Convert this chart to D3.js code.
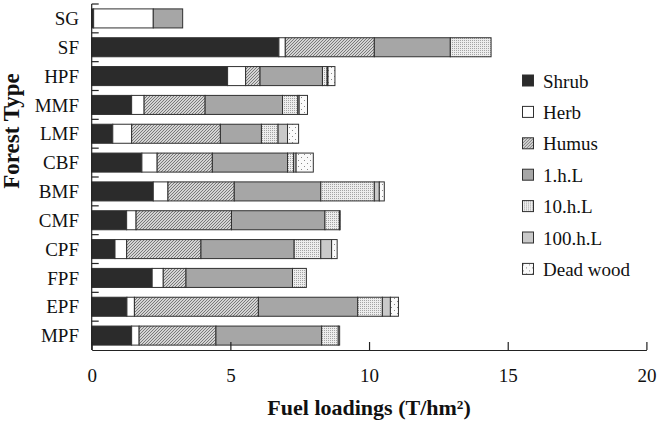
<!DOCTYPE html>
<html>
<head>
<meta charset="utf-8">
<script src="https://cdn.jsdelivr.net/npm/d3@7"></script>
<style>
  body { margin: 0; background: #fff; }
  svg { display: block; font-family: "Liberation Serif", "Times New Roman", serif; }
</style>
</head>
<body>
<div id="chart"></div>
<script>
const categories = ["SG", "SF", "HPF", "MMF", "LMF", "CBF", "BMF", "CMF", "CPF", "FPF", "EPF", "MPF"];
const seriesNames = ["Shrub", "Herb", "Humus", "1.h.L", "10.h.L", "100.h.L", "Dead wood"];
const shrub    = [0.07, 6.75, 4.90, 1.44, 0.76, 1.81, 2.22, 1.26, 0.84, 2.18, 1.27, 1.44];
const herb     = [2.15, 0.23, 0.65, 0.45, 0.68, 0.55, 0.53, 0.34, 0.42, 0.40, 0.27, 0.27];
const humus    = [0, 3.21, 0.52, 2.20, 3.20, 1.99, 2.39, 3.44, 2.68, 0.82, 4.47, 2.77];
const h1       = [1.06, 2.74, 2.25, 2.79, 1.48, 2.71, 3.12, 3.37, 3.36, 3.84, 3.58, 3.81];
const h10      = [0, 1.47, 0.17, 0.55, 0.60, 0.22, 1.93, 0.52, 0.96, 0.50, 0.89, 0.60];
const h100     = [0, 0, 0.03, 0.05, 0.34, 0.09, 0.18, 0, 0.39, 0, 0.29, 0];
const deadwood = [0, 0, 0.25, 0.30, 0.40, 0.62, 0.18, 0.03, 0.20, 0, 0.29, 0.05];
const xTicks = [0, 5, 10, 15, 20];

const svgWidth = 661;
const svgHeight = 427;
const plotLeft = 91.7;
const plotRight = 646.4;
const plotTop = 4;
const plotBottom = 350;

const rows = categories.map((c, i) => ({
    cat: c,
    "Shrub": shrub[i],
    "Herb": herb[i],
    "Humus": humus[i],
    "1.h.L": h1[i],
    "10.h.L": h10[i],
    "100.h.L": h100[i],
    "Dead wood": deadwood[i]
}));

const svg = d3.select("#chart")
    .append("svg")
    .attr("width", svgWidth)
    .attr("height", svgHeight);

const defs = svg.append("defs");

// diagonal hatch for humus
const hatch = defs.append("pattern")
    .attr("id", "hatch")
    .attr("patternUnits", "userSpaceOnUse")
    .attr("width", 3)
    .attr("height", 3);
hatch.append("rect").attr("width", 3).attr("height", 3).attr("fill", "#d4d4d4");
hatch.append("path")
    .attr("d", "M0,3 L3,0 M-1,1 L1,-1 M2,4 L4,2")
    .attr("stroke", "#6e6e6e")
    .attr("stroke-width", 0.9);

// fine dots for 10.h.L
const fine = defs.append("pattern")
    .attr("id", "fine")
    .attr("patternUnits", "userSpaceOnUse")
    .attr("width", 2)
    .attr("height", 2);
fine.append("rect").attr("width", 2).attr("height", 2).attr("fill", "#ededed");
fine.append("rect").attr("width", 1).attr("height", 1).attr("fill", "#a4a4a4");

// sparse dots for dead wood
const sparse = defs.append("pattern")
    .attr("id", "sparse")
    .attr("patternUnits", "userSpaceOnUse")
    .attr("width", 6)
    .attr("height", 6);
sparse.append("rect").attr("width", 6).attr("height", 6).attr("fill", "#fafafa");
sparse.append("rect").attr("x", 1).attr("y", 1).attr("width", 1).attr("height", 1).attr("fill", "#8a8a8a");
sparse.append("rect").attr("x", 4).attr("y", 4).attr("width", 1).attr("height", 1).attr("fill", "#8a8a8a");

const fills = d3.scaleOrdinal()
    .domain(seriesNames)
    .range(["#2b2b2b", "#ffffff", "url(#hatch)", "#a6a6a6", "url(#fine)", "#c9c9c9", "url(#sparse)"]);

const x = d3.scaleLinear()
    .domain([0, 20])
    .range([plotLeft, plotRight]);

const y = d3.scaleBand()
    .domain(categories)
    .range([plotTop, plotBottom])
    .paddingInner(0.34)
    .paddingOuter(0.17);

const stack = d3.stack().keys(seriesNames);
const series = stack(rows);

const layers = svg.append("g")
    .selectAll("g")
    .data(series)
    .enter()
    .append("g")
    .attr("fill", d => fills(d.key));

layers.selectAll("rect")
    .data(d => d.filter(s => s[1] - s[0] > 0))
    .enter()
    .append("rect")
    .attr("x", d => x(d[0]))
    .attr("y", d => y(d.data.cat))
    .attr("width", d => x(d[1]) - x(d[0]))
    .attr("height", y.bandwidth())
    .attr("stroke", "#303030")
    .attr("stroke-width", 1);

// x axis, ticks pointing up into the plot
const xAxis = d3.axisBottom(x)
    .tickValues(xTicks)
    .tickFormat(d3.format("d"))
    .tickSizeInner(-8)
    .tickSizeOuter(0)
    .tickPadding(19);

const gx = svg.append("g")
    .attr("transform", `translate(0,${plotBottom})`)
    .call(xAxis);
gx.select(".domain").attr("stroke", "#222").attr("stroke-width", 1.2);
gx.selectAll(".tick line").attr("stroke", "#222").attr("stroke-width", 1.2);
gx.selectAll("text")
    .attr("fill", "#111")
    .style("font-family", "Liberation Serif")
    .style("font-size", "19px");

// y axis: line, ticks between categories, labels
const gy = svg.append("g");
gy.append("line")
    .attr("x1", plotLeft).attr("x2", plotLeft)
    .attr("y1", plotTop).attr("y2", plotBottom)
    .attr("stroke", "#222")
    .attr("stroke-width", 1.2);

const boundaries = categories.map(c => y(c) - y.step() * y.paddingInner() / 2);
gy.selectAll(".ytick")
    .data(boundaries)
    .enter()
    .append("line")
    .attr("class", "ytick")
    .attr("x1", plotLeft).attr("x2", plotLeft + 7)
    .attr("y1", d => d).attr("y2", d => d)
    .attr("stroke", "#222")
    .attr("stroke-width", 1.2);

gy.selectAll(".ylabel")
    .data(categories)
    .enter()
    .append("text")
    .attr("class", "ylabel")
    .attr("x", 79)
    .attr("y", d => y(d) + y.bandwidth() / 2)
    .attr("dy", "0.35em")
    .attr("text-anchor", "end")
    .attr("fill", "#111")
    .style("font-size", "19px")
    .text(d => d);

// axis titles
svg.append("text")
    .attr("x", (plotLeft + plotRight) / 2)
    .attr("y", 415)
    .attr("text-anchor", "middle")
    .attr("fill", "#111")
    .style("font-size", "22px")
    .style("font-weight", "bold")
    .text("Fuel loadings (T/hm²)");

svg.append("text")
    .attr("transform", "translate(19,131) rotate(-90)")
    .attr("text-anchor", "middle")
    .attr("fill", "#111")
    .style("font-size", "23px")
    .style("font-weight", "bold")
    .text("Forest Type");

// legend
const legend = svg.append("g")
    .selectAll("g")
    .data(seriesNames)
    .enter()
    .append("g")
    .attr("transform", (d, i) => `translate(522,${81 + i * 31.4})`);

legend.append("rect")
    .attr("x", 0.5)
    .attr("y", -6)
    .attr("width", 11)
    .attr("height", 11)
    .attr("fill", d => fills(d))
    .attr("stroke", "#303030")
    .attr("stroke-width", 1);

legend.append("text")
    .attr("x", 21)
    .attr("y", 0)
    .attr("dy", "0.35em")
    .attr("fill", "#111")
    .style("font-size", "19px")
    .text(d => d);
</script>
</body>
</html>
